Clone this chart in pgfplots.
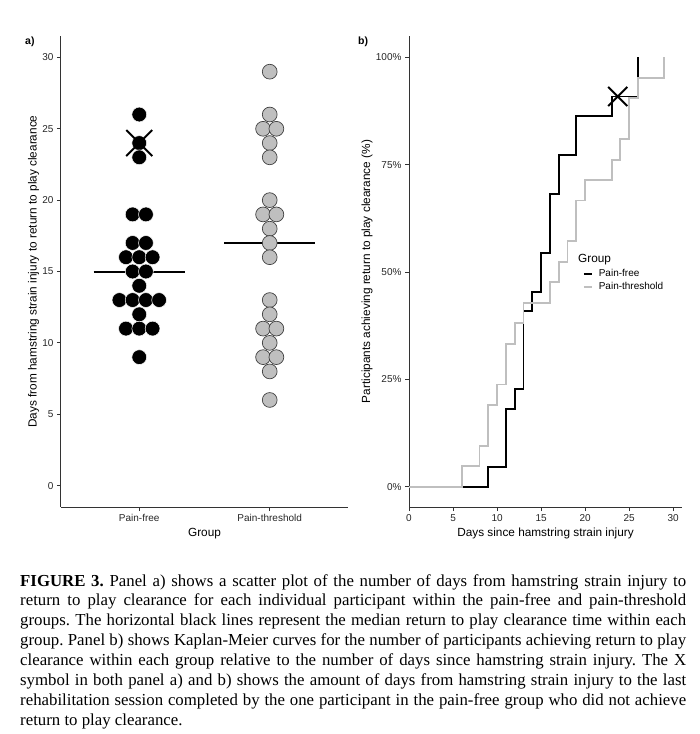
\documentclass[border=0pt]{standalone}
\usepackage{fontspec}
\setmainfont{Liberation Sans}
\newfontfamily\capfont{Liberation Serif}
\usepackage{pgfplots}
\pgfplotsset{compat=1.18}
\frenchspacing
\pgfplotsset{mystyle/.style={
  scale only axis, axis lines*=left,
  axis line style={-, black!80, line width=1pt},
  tick align=outside, major tick length=4pt,
  tick style={black!80, line width=0.9pt},
  tick label style={font=\fontsize{10}{12}\selectfont, text=black!85},
  label style={font=\fontsize{11.8}{14}\selectfont},
  /pgf/number format/assume math mode=true,
}}
\begin{document}
\begin{tikzpicture}
\useasboundingbox (0pt,0pt) rectangle (700pt,-734pt);
% ---------- panel a ----------
\begin{axis}[mystyle, at={(61pt,-507pt)}, anchor=south west,
  width=287pt, height=471pt,
  xmin=0.4, xmax=2.6, ymin=-1.5, ymax=31.5,
  xtick={1,2}, xticklabels={Pain-free,Pain-threshold},
  ytick={0,5,10,15,20,25,30},
  xlabel={Group},
  ylabel={Days from hamstring strain injury to return to play clearance},
  xlabel style={at={(axis description cs:0.5,-0.057)}, anchor=center},
  ylabel style={at={(axis description cs:-0.096,0.5)}, anchor=center},
]
\addplot[only marks, mark=*, mark size=7.4pt, mark options={fill=black, draw=white, line width=0.5pt}]
coordinates {
(1,26) (1,24) (1,23)
(0.949,19) (1.051,19)
(0.949,17) (1.051,17)
(0.898,16) (1,16) (1.102,16)
(0.949,15) (1.051,15)
(1,14)
(0.848,13) (0.949,13) (1.051,13) (1.152,13)
(1,12)
(0.898,11) (1,11) (1.102,11)
(1,9)
};
\addplot[only marks, mark=*, mark size=7.4pt, mark options={fill=black!25, draw=black!75, line width=0.7pt}]
coordinates {
(2,29) (2,26)
(1.949,25) (2.051,25)
(2,24) (2,23) (2,20)
(1.949,19) (2.051,19)
(2,18) (2,17) (2,16) (2,13) (2,12)
(1.949,11) (2.051,11)
(2,10)
(1.949,9) (2.051,9)
(2,8) (2,6)
};
\addplot[black, line width=2pt] coordinates {(0.65,15) (1.35,15)};
\addplot[black, line width=2pt] coordinates {(1.65,17) (2.35,17)};
\addplot[only marks, mark=x, mark size=18.4pt, mark options={line width=2pt, black}] coordinates {(1,24)};
\end{axis}
% ---------- panel b ----------
\begin{axis}[mystyle, at={(409pt,-507pt)}, anchor=south west,
  width=273pt, height=471pt,
  xmin=0, xmax=31, ymin=-4.73, ymax=105,
  xtick={0,5,10,15,20,25,30},
  ytick={0,25,50,75,100}, yticklabels={0\%,25\%,50\%,75\%,100\%},
  xlabel={Days since hamstring strain injury},
  ylabel={Participants achieving return to play clearance (\%)},
  xlabel style={at={(axis description cs:0.5,-0.057)}, anchor=center},
  ylabel style={at={(axis description cs:-0.154,0.5)}, anchor=center},
  legend style={at={(axis description cs:0.637,0.481)}, anchor=west,
    draw=none, fill=none, inner sep=0pt, outer sep=0pt,
    row sep=3pt, column sep=6pt,
    font=\fontsize{10}{12}\selectfont,
    nodes={inner sep=0pt, text height=7.3pt, text depth=2pt}},
  legend cell align=left,
  legend image code/.code={\draw[#1] (0pt,0pt) -- (8pt,0pt);},
]
\addplot[const plot, black, line width=1.9pt] coordinates {
(0,0) (9,4.545) (11,18.18) (12,22.73) (13,40.91) (14,45.45) (15,54.55)
(16,68.18) (17,77.27) (19,86.36) (23,90.91) (26,100)
};
\addlegendentry{Pain-free}
\addplot[const plot, black!25, line width=1.9pt] coordinates {
(0,0) (6,4.76) (8,9.52) (9,19.05) (10,23.81) (11,33.33) (12,38.10) (13,42.86)
(16,47.62) (17,52.38) (18,57.14) (19,66.67) (20,71.43) (23,76.19) (24,80.95)
(25,90.48) (26,95.24) (29,100)
};
\addlegendentry{Pain-threshold}
\addplot[only marks, mark=x, mark size=13.5pt, mark options={line width=2pt, black}, forget plot] coordinates {(23.7,90.91)};
\end{axis}
% ---------- tags, legend title ----------
\node[anchor=base west, font=\bfseries\fontsize{10.5}{12}\selectfont, inner sep=0pt] at (25pt,-44pt) {a)};
\node[anchor=base west, font=\bfseries\fontsize{10.5}{12}\selectfont, inner sep=0pt] at (358pt,-44pt) {b)};
\node[anchor=base west, font=\fontsize{11.8}{14}\selectfont, inner sep=0pt] at (578pt,-262pt) {Group};
% ---------- caption ----------
\begin{scope}[every node/.style={anchor=base west, inner sep=0pt, font=\capfont\fontsize{16.8}{19.86}\selectfont}]
\node at (20pt,-586pt) {\makebox[666pt][s]{\textbf{FIGURE 3.} Panel a) shows a scatter plot of the number of days from hamstring strain injury to}};
\node at (20pt,-605.86pt) {\makebox[666pt][s]{return to play clearance for each individual participant within the pain-free and pain-threshold}};
\node at (20pt,-625.72pt) {\makebox[666pt][s]{groups. The horizontal black lines represent the median return to play clearance time within each}};
\node at (20pt,-645.58pt) {\makebox[666pt][s]{group. Panel b) shows Kaplan-Meier curves for the number of participants achieving return to play}};
\node at (20pt,-665.44pt) {\makebox[666pt][s]{clearance within each group relative to the number of days since hamstring strain injury. The X}};
\node at (20pt,-685.3pt) {\makebox[666pt][s]{symbol in both panel a) and b) shows the amount of days from hamstring strain injury to the last}};
\node at (20pt,-705.16pt) {\makebox[666pt][s]{rehabilitation session completed by the one participant in the pain-free group who did not achieve}};
\node at (20pt,-725pt) {return to play clearance.};
\end{scope}
\end{tikzpicture}
\end{document}
